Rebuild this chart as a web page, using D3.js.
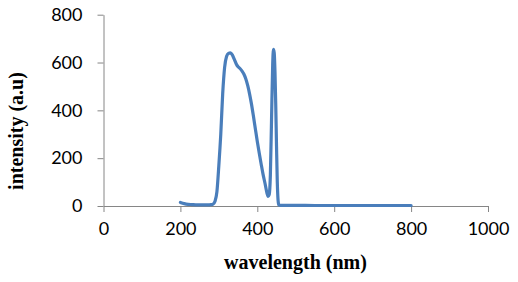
<!DOCTYPE html>
<html><head><meta charset="utf-8">
<script src="https://cdn.jsdelivr.net/npm/d3@7"></script>
<style>body{margin:0;background:#fff}svg{display:block}</style>
</head><body>
<svg id="c" width="518" height="282"></svg>
<script>
const wavelength = [200,210,220,230,240,250,260,270,280,285,290,295,300,305,310,315,320,325,330,335,340,345,350,355,360,365,370,375,380,385,390,395,400,405,410,415,420,425,428,431,434,437,440,442,444,446,448,450,452,454,456,460,480,500,550,600,650,700,750,800];
const intensity  = [15,10,7,6,5,5,5,5,6,8,20,60,170,300,470,580,625,638,640,632,614,595,582,575,565,552,532,504,468,425,375,322,270,222,176,132,95,55,40,48,130,360,590,655,640,560,420,250,100,25,5,3,3,3,2,2,2,2,2,2];
const xTicks = [0,200,400,600,800,1000];
const yTicks = [0,200,400,600,800];

const svg = d3.select("#c");
const x = d3.scaleLinear().domain([0,1000]).range([103.5,488]);
const y = d3.scaleLinear().domain([0,800]).range([206,14.7]);
const axisColor = "#868686";
const tickFont = "Lato, 'Open Sans', sans-serif";

const gx = svg.append("g").attr("transform","translate(0,206)")
  .call(d3.axisBottom(x).tickValues(xTicks).tickFormat(d3.format("d")).tickSize(6).tickSizeOuter(0).tickPadding(10));
const gy = svg.append("g").attr("transform","translate(103.5,0)")
  .call(d3.axisLeft(y).tickValues(yTicks).tickFormat(d3.format("d")).tickSize(6).tickSizeOuter(0).tickPadding(15));
[gx,gy].forEach(g=>{
  g.select(".domain").attr("stroke",axisColor).attr("stroke-width",1);
  g.selectAll(".tick line").attr("stroke",axisColor);
  g.selectAll(".tick text").attr("fill","#000").style("font-family",tickFont).style("font-size","18px");
});

const data = wavelength.map((w,i)=>({w, v:intensity[i]}));
svg.append("path").datum(data)
  .attr("fill","none").attr("stroke","#4a7ebb").attr("stroke-width",3.2)
  .attr("stroke-linejoin","round").attr("stroke-linecap","round")
  .attr("d", d3.line().x(d=>x(d.w)).y(d=>y(d.v)).curve(d3.curveMonotoneX));

svg.append("text").attr("x",295.5).attr("y",269).attr("text-anchor","middle")
  .style("font-family","'Liberation Serif', 'Times New Roman', serif").style("font-weight","bold").style("font-size","20px")
  .text("wavelength (nm)");
svg.append("text").attr("transform","translate(23,131) rotate(-90)").attr("text-anchor","middle")
  .style("font-family","'Liberation Serif', 'Times New Roman', serif").style("font-weight","bold").style("font-size","20px")
  .text("intensity  (a.u)");
</script>
</body></html>
